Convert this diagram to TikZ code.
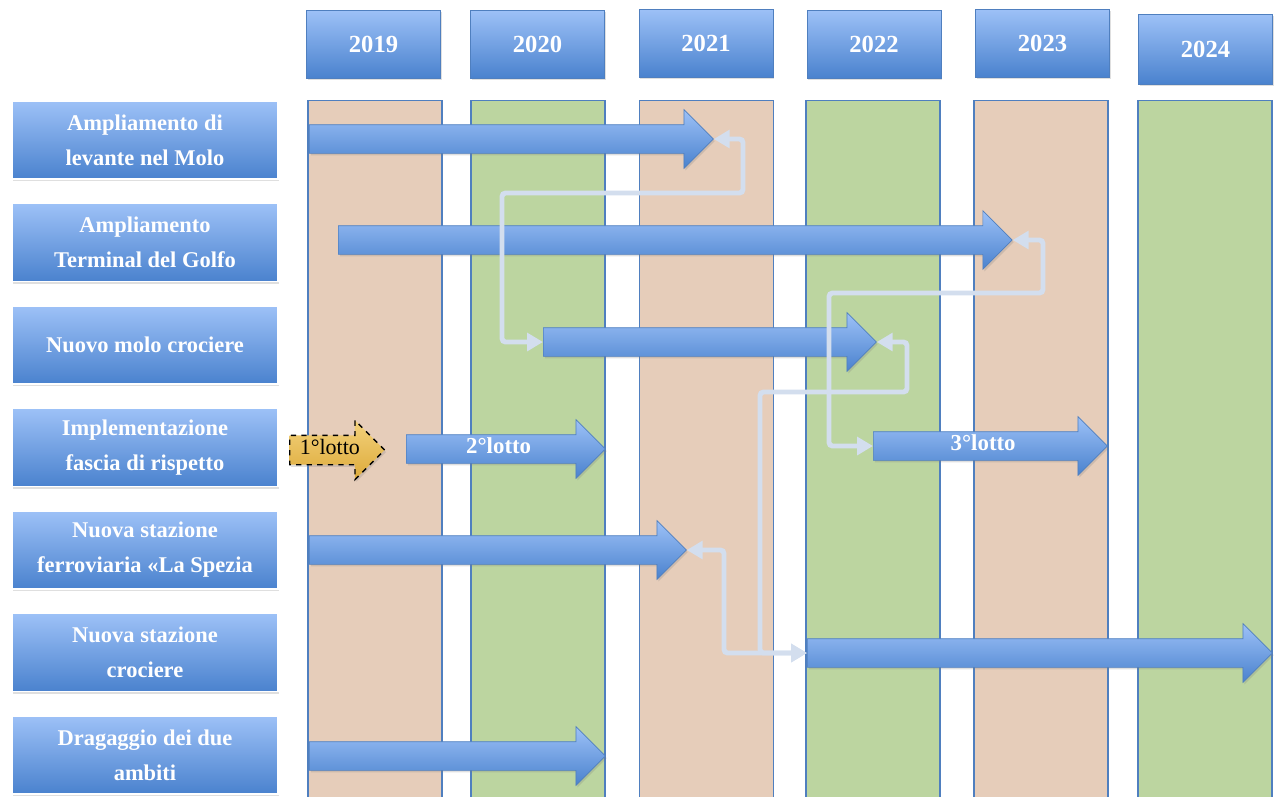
\documentclass[tikz,border=0pt]{standalone}
\usepackage{fontspec}
\setmainfont{Liberation Serif}
\usetikzlibrary{positioning, shapes.arrows, arrows.meta, shadows}
\usepackage{xcolor}
\definecolor{bartop}{HTML}{9DC1F7}
\definecolor{barbot}{HTML}{4A82CE}
\definecolor{barline}{HTML}{4F7FBF}
\definecolor{oddyear}{HTML}{E6CDBA}
\definecolor{evenyear}{HTML}{BCD5A0}
\definecolor{linkcol}{HTML}{D3DEEE}
\definecolor{lottop}{HTML}{F3D27C}
\definecolor{lotbot}{HTML}{DDAA3A}

\begin{document}
\begin{tikzpicture}[
    x=0.02cm, y=-0.02cm,
    soft/.style={drop shadow={opacity=0.25, shadow xshift=0.8pt, shadow yshift=-1.2pt}},
    year/.style={draw=barline, top color=bartop, bottom color=barbot, soft, minimum width=2.68cm, minimum height=1.36cm, text=white, font=\bfseries\fontsize{14}{16}\selectfont},
    col/.style={draw=barline, line width=0.8pt, minimum width=2.68cm, minimum height=14cm, anchor=north},
    task/.style={draw=white, line width=1pt, top color=bartop, bottom color=barbot, soft, minimum width=5.32cm, minimum height=1.56cm, align=center, text=white, font=\bfseries\fontsize{12.8}{20}\selectfont},
    bar/.style={single arrow, single arrow head extend=0.3cm, draw=barline, top color=bartop, bottom color=barbot, soft, inner sep=0pt, text height=0.36cm, text depth=0.2cm, anchor=tail, text=white, font=\bfseries\fontsize{13}{15}\selectfont},
    link/.style={draw=linkcol, line width=2.8pt, rounded corners=2pt, {Triangle[length=9pt,width=10pt]}-{Triangle[length=9pt,width=10pt]}},
]
\useasboundingbox (0,0) rectangle (1274,796);

% Year columns
\node[col, fill=oddyear] (c2019) at (375,100) {};
\node[col, fill=evenyear] (c2020) at (538,100) {};
\node[col, fill=oddyear] (c2021) at (706.5,100) {};
\node[col, fill=evenyear] (c2022) at (873,100) {};
\node[col, fill=oddyear] (c2023) at (1041,100) {};
\node[col, fill=evenyear] (c2024) at (1205,100) {};

% Year headers
\node[year] (y2019) at (373.5,44) {2019};
\node[year] (y2020) at (537.5,44) {2020};
\node[year] (y2021) at (706,43) {2021};
\node[year] (y2022) at (874,44) {2022};
\node[year] (y2023) at (1042.5,43) {2023};
\node[year, minimum height=1.4cm] (y2024) at (1205.5,49) {2024};

% Tasks
\node[task] (t1) at (145,140) {Ampliamento di\\levante nel Molo};
\node[task, below=0.455cm of t1] (t2) {Ampliamento\\Terminal del Golfo};
\node[task, below=0.455cm of t2] (t3) {Nuovo molo crociere};
\node[task, below=0.455cm of t3] (t4) {Implementazione\\fascia di rispetto};
\node[task, below=0.455cm of t4] (t5) {Nuova stazione\\ferroviaria «La Spezia};
\node[task, below=0.455cm of t5] (t6) {Nuova stazione\\crociere};
\node[task, below=0.455cm of t6] (t7) {Dragaggio dei due\\ambiti};

% Bars
\node[bar, minimum height=8.08cm] (b1) at (309,139) {};
\node[bar, minimum height=13.48cm] (b2) at (338,240) {};
\node[bar, minimum height=6.66cm] (b3) at (543,342) {};
\node[bar, minimum height=1.9cm, draw=black, dashed, line width=0.8pt, top color=lottop, bottom color=lotbot, text=black, font=\fontsize{12.5}{15}\selectfont] (b4a) at (289,450) {1°lotto};
\node[bar, minimum height=3.98cm] (b4b) at (406,449) {2°lotto};
\node[bar, minimum height=4.68cm] (b4c) at (873,446) {3°lotto};
\node[bar, minimum height=7.54cm] (b5) at (309,550) {};
\node[bar, minimum height=9.3cm] (b6) at (807,653) {};
\node[bar, minimum height=5.92cm] (b7) at (309,756) {};

% Links between bars
\draw[link] (b1.tip) -| (743,193) -| (502,342) -- (b3.tail);
\draw[link] (b2.tip) -| (1043,293) -| (829,446) -- (b4c.tail);
\draw[link] (b3.tip) -| (907,392) -- (760,392) |- (b6.tail);
\draw[link] (b5.tip) -- (724,550) |- (b6.tail);

\end{tikzpicture}
\end{document}
